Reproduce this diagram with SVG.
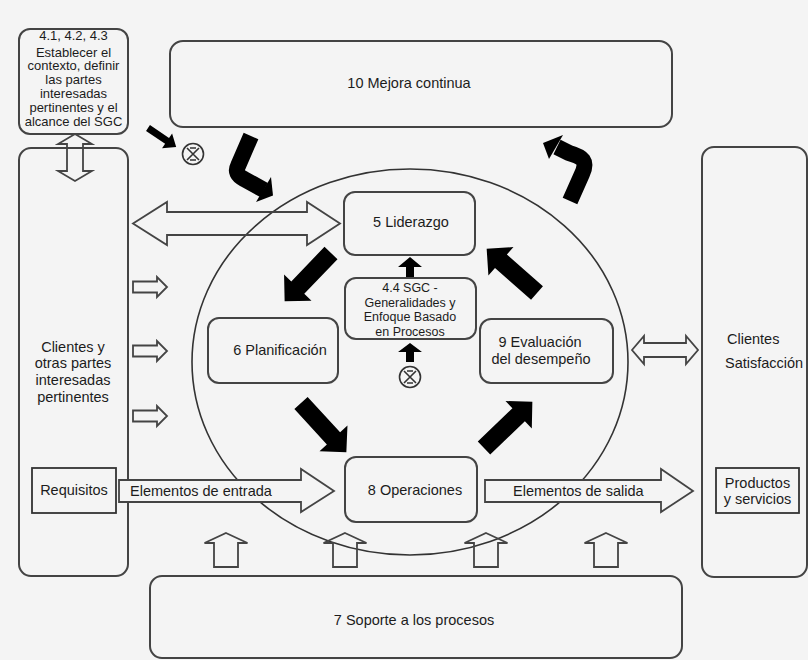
<svg xmlns="http://www.w3.org/2000/svg" xmlns:xlink="http://www.w3.org/1999/xlink" width="808" height="660" viewBox="0 0 808 660">
<style>
.bg{fill:#f4f4f4}
.box{fill:none;stroke:#444;stroke-width:2}
.sq{fill:none;stroke:#333;stroke-width:1.8}
.t{font-family:"Liberation Sans",Arial,sans-serif;font-size:14.5px;fill:#1c1c1c;text-anchor:middle}
.ts{font-family:"Liberation Sans",Arial,sans-serif;font-size:13px;fill:#1c1c1c;text-anchor:middle}
.tm{font-family:"Liberation Sans",Arial,sans-serif;font-size:12.5px;fill:#1c1c1c;text-anchor:middle}
.hol{fill:none;stroke:#444;stroke-width:1.8;stroke-linejoin:miter}
.holf{fill:#f4f4f4;stroke:#444;stroke-width:1.8}
.blk{fill:#000}
.crv{fill:none;stroke:#000;stroke-width:16;stroke-linejoin:round}
.sym{fill:none;stroke:#333;stroke-width:1.6}
</style>
<defs>
<path id="bigArrow" d="M0,-9 L48,-9 L48,-19 L67,0 L48,19 L48,9 L0,9 Z"/>
<path id="sr" d="M0,-5.5 H24 V-10 L34,0 L24,10 V5.5 H0 Z"/>
<path id="up" d="M0,0 L21.5,10 H12 V34 H-12 V10 H-21.5 Z"/>
<g id="cx">
<circle r="10.5"/>
<path d="M-6,-6 L6,6 M6,-6 L-6,6 M-3,-6 H3 M-3,6 H3"/>
</g>
</defs>
<rect class="bg" x="0" y="0" width="808" height="660"/>

<ellipse id="circle" cx="410" cy="362" rx="218" ry="193" fill="none" stroke="#333" stroke-width="1.6"/>

<g id="contexto">
<rect class="box" x="19" y="29" width="109" height="105" rx="11"/>
<text class="ts" x="73.5" y="40">4.1, 4.2, 4.3</text>
<text class="ts" x="73.5" y="56.5">Establecer el</text>
<text class="ts" x="73.5" y="70">contexto, definir</text>
<text class="ts" x="73.5" y="84">las partes</text>
<text class="ts" x="73.5" y="98">interesadas</text>
<text class="ts" x="73.5" y="112">pertinentes y el</text>
<text class="ts" x="73.5" y="126">alcance del SGC</text>
</g>

<g id="mejora">
<rect class="box" x="170" y="41" width="502" height="86" rx="13"/>
<text class="t" x="409" y="88">10 Mejora continua</text>
</g>

<g id="clientes-izq">
<rect class="box" x="19" y="148" width="109" height="428" rx="12"/>
<text class="t" x="73" y="352">Clientes y</text>
<text class="t" x="73" y="368">otras partes</text>
<text class="t" x="73" y="385">interesadas</text>
<text class="t" x="73" y="402">pertinentes</text>
</g>

<g id="requisitos">
<rect class="sq" x="32" y="468" width="84" height="45"/>
<text class="t" x="74" y="495">Requisitos</text>
</g>

<g id="clientes-der">
<rect class="box" x="702" y="147" width="105" height="430" rx="12"/>
<text class="t" x="727" y="344" style="text-anchor:start">Clientes</text>
<text class="t" x="725" y="368" style="text-anchor:start">Satisfacción</text>
</g>

<g id="productos">
<rect class="sq" x="716" y="468" width="83" height="45"/>
<text class="t" x="757.5" y="488">Productos</text>
<text class="t" x="757.5" y="504">y servicios</text>
</g>

<g id="soporte">
<rect class="box" x="150" y="576" width="532" height="82" rx="12"/>
<text class="t" x="414" y="625">7 Soporte a los procesos</text>
</g>

<g id="liderazgo">
<rect class="box" x="344" y="192" width="131" height="63" rx="11"/>
<text class="t" x="411" y="227">5 Liderazgo</text>
</g>

<g id="sgc">
<rect class="box" x="345" y="278" width="131" height="61" rx="11"/>
<text class="tm" x="410" y="292">4.4 SGC -</text>
<text class="tm" x="410" y="307">Generalidades y</text>
<text class="tm" x="410" y="321">Enfoque Basado</text>
<text class="tm" x="410" y="336">en Procesos</text>
</g>

<g id="planificacion">
<rect class="box" x="208" y="318" width="130" height="65" rx="11"/>
<text class="t" x="280" y="355">6 Planificación</text>
</g>

<g id="evaluacion">
<rect class="box" x="480" y="319" width="133" height="64" rx="11"/>
<text class="t" x="540" y="347">9 Evaluación</text>
<text class="t" x="541" y="364">del desempeño</text>
</g>

<g id="operaciones">
<rect class="box" x="345" y="457" width="132" height="65" rx="11"/>
<text class="t" x="415" y="495">8 Operaciones</text>
</g>

<g id="connectors">
<polygon class="hol" points="75,134 92,144 83,144 83,171 92,171 75,181 58,171 67,171 67,144 58,144"/>
<polygon class="hol" points="133,223.5 167,202 167,212 307,212 307,202 340,223.5 307,245 307,235 167,235 167,245"/>
<use href="#sr" xlink:href="#sr" class="hol" transform="translate(133,287)"/>
<use href="#sr" xlink:href="#sr" class="hol" transform="translate(133,351)"/>
<use href="#sr" xlink:href="#sr" class="hol" transform="translate(133,416)"/>
<polygon class="hol" points="632,350 644,336 644,343 686,343 686,336 698,350 686,364 686,357 644,357 644,364"/>
<polygon class="holf" points="119,480 301,480 301,469 334,491 301,512 301,502 119,502"/>
<text class="t" x="130" y="496" style="text-anchor:start">Elementos de entrada</text>
<polygon class="holf" points="485,480 661,480 661,469 693,491 661,512 661,502 485,502"/>
<text class="t" x="513" y="496" style="text-anchor:start">Elementos de salida</text>
<use href="#up" xlink:href="#up" class="hol" transform="translate(226,533)"/>
<use href="#up" xlink:href="#up" class="hol" transform="translate(345,533)"/>
<use href="#up" xlink:href="#up" class="hol" transform="translate(486,533)"/>
<use href="#up" xlink:href="#up" class="hol" transform="translate(606,533)"/>
<use href="#bigArrow" xlink:href="#bigArrow" class="blk" transform="translate(331,253) rotate(133.8)"/>
<use href="#bigArrow" xlink:href="#bigArrow" class="blk" transform="translate(301,403) rotate(47.4)"/>
<use href="#bigArrow" xlink:href="#bigArrow" class="blk" transform="translate(484,448) rotate(-43.8)"/>
<use href="#bigArrow" xlink:href="#bigArrow" class="blk" transform="translate(537,293) rotate(-138.7)"/>
<polygon class="blk" points="406,277 406,267 398,267 410,257 422,267 414,267 414,277"/>
<polygon class="blk" points="406,362 406,352 398,352 410,343 422,352 414,352 414,362"/>
<path class="blk" d="M0,-3.5 L23,-3.5 L23,-9 L34,0 L23,9 L23,3.5 L0,3.5 Z" transform="translate(148,128) rotate(34)"/>
<path class="crv" d="M251,136 L238,166 Q234,174 244,179 L264,190"/>
<polygon class="blk" points="271,177 256,202 273,195.5"/>
<path class="crv" d="M570,201 L582,174 C588,161 583,157 569,153 L557,147"/>
<polygon class="blk" points="563,135 549,159 543,143"/>
<use href="#cx" xlink:href="#cx" class="sym" transform="translate(193,154)"/>
<use href="#cx" xlink:href="#cx" class="sym" transform="translate(410,377)"/>
</g>
</svg>
